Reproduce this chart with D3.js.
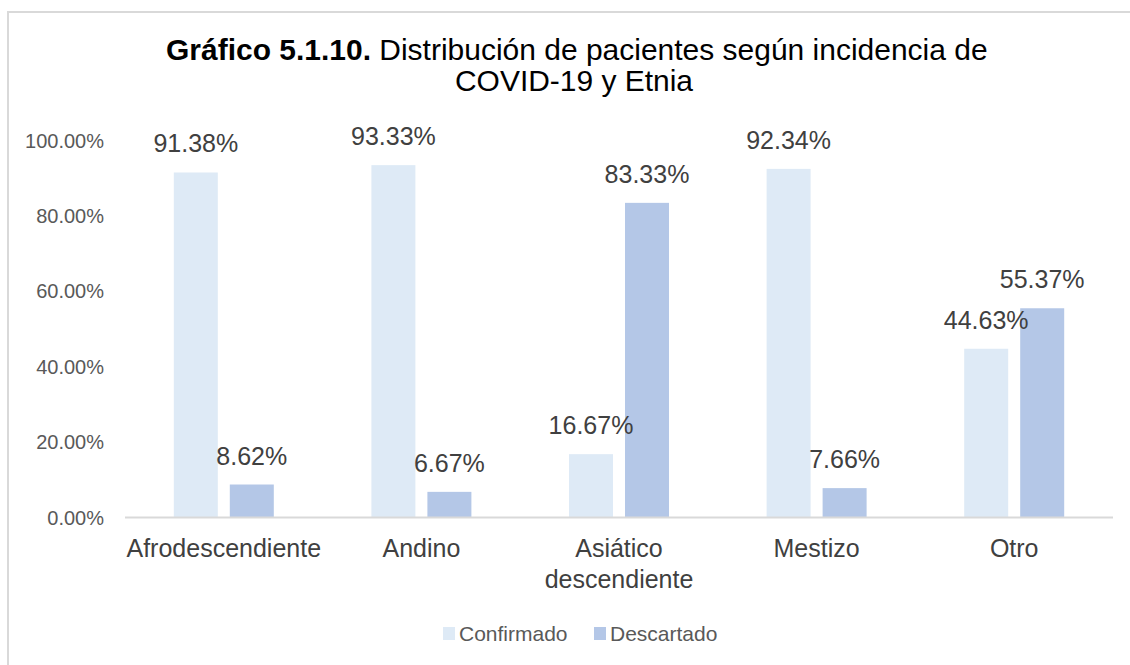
<!DOCTYPE html>
<html><head><meta charset="utf-8">
<script src="https://cdn.jsdelivr.net/npm/d3@7"></script>
<style>html,body{margin:0;padding:0;background:#fff;}svg{display:block;}</style>
</head><body>
<svg id="chart" width="1130" height="665"></svg>
<script>
const categories = ["Afrodescendiente", "Andino", "Asiático\ndescendiente", "Mestizo", "Otro"];
const seriesNames = ["Confirmado", "Descartado"];
const confirmado = [91.38, 93.33, 16.67, 92.34, 44.63];
const descartado = [8.62, 6.67, 83.33, 7.66, 55.37];
const yTicks = [0, 20, 40, 60, 80, 100];
const colors = ["#DEEAF6", "#B4C7E7"];

const svg = d3.select("#chart");
const font = "'Liberation Sans', Arial, sans-serif";

// frame
svg.append("rect").attr("x", 8).attr("y", 12).attr("width", 1200).attr("height", 700)
  .attr("fill", "#fff").attr("stroke", "#d9d9d9").attr("stroke-width", 2);

// title
const t1 = svg.append("text").attr("y", 60).attr("font-family", font).attr("font-size", 29.5).attr("fill", "#000");
t1.append("tspan").attr("font-weight", "bold").text("Gráfico 5.1.10.");
t1.append("tspan").text(" Distribución de pacientes según incidencia de");
const t2 = svg.append("text").attr("y", 91).attr("font-family", font).attr("font-size", 29.5).attr("fill", "#000")
  .text("COVID-19 y Etnia");
function fitText(sel, targetW, cx) {
  const w = sel.node().getComputedTextLength();
  const s = targetW / w;
  sel.attr("x", 0).attr("transform", `translate(${cx - targetW / 2},0) scale(${s},1)`);
}
fitText(t1, 822, 577);
fitText(t2, 238, 574);

const x0 = d3.scaleBand().domain(categories).range([125, 1113]).padding(0);
const x1 = d3.scaleBand().domain(seriesNames).range([0, 100]).paddingInner(0.2143).paddingOuter(0);
const y = d3.scaleLinear().domain([0, 100]).range([517, 140]);

// y axis labels
const yAxis = d3.axisLeft(y).tickValues(yTicks).tickSize(0).tickPadding(0)
  .tickFormat(d => d3.format(".2f")(d) + "%");
const ya = svg.append("g").attr("transform", "translate(104,0)").call(yAxis);
ya.select(".domain").remove();
ya.selectAll("text").attr("font-family", font).attr("font-size", 20).attr("fill", "#595959").attr("dy", "0.35em");

// bars
const data = categories.map((c, i) => ({cat: c, vals: [confirmado[i], descartado[i]]}));
const groups = svg.append("g").selectAll("g").data(data).join("g")
  .attr("transform", d => `translate(${x0(d.cat) + x0.bandwidth() / 2 - 50},0)`);
groups.selectAll("rect").data(d => d.vals.map((v, j) => ({s: seriesNames[j], v, j}))).join("rect")
  .attr("x", d => x1(d.s)).attr("width", x1.bandwidth())
  .attr("y", d => y(d.v)).attr("height", d => y(0) - y(d.v))
  .attr("fill", d => colors[d.j]);
groups.selectAll("text").data(d => d.vals.map((v, j) => ({s: seriesNames[j], v, j}))).join("text")
  .attr("x", d => x1(d.s) + x1.bandwidth() / 2).attr("y", d => y(d.v) - 20)
  .attr("text-anchor", "middle").attr("font-family", font).attr("font-size", 25).attr("fill", "#404040")
  .text(d => d3.format(".2f")(d.v) + "%");

// x axis line
svg.append("line").attr("x1", 125).attr("x2", 1113).attr("y1", 517.5).attr("y2", 517.5)
  .attr("stroke", "#d9d9d9").attr("stroke-width", 2);

// category labels
const xa = svg.append("g").selectAll("text").data(categories).join("text")
  .attr("x", d => x0(d) + x0.bandwidth() / 2).attr("y", 557)
  .attr("text-anchor", "middle").attr("font-family", font).attr("font-size", 25).attr("fill", "#404040");
xa.each(function(d) {
  const lines = d.split("\n");
  const el = d3.select(this);
  lines.forEach((l, i) => el.append("tspan").attr("x", x0(d) + x0.bandwidth() / 2).attr("dy", i === 0 ? 0 : 31).text(l));
});

// legend
const legX = [443, 594];
const leg = svg.append("g").selectAll("g").data(seriesNames).join("g")
  .attr("transform", (d, i) => `translate(${legX[i]},0)`);
leg.append("rect").attr("x", 0).attr("y", 627).attr("width", 12).attr("height", 13).attr("fill", (d, i) => colors[i]);
leg.append("text").attr("x", 16).attr("y", 641).attr("font-family", font).attr("font-size", 21).attr("fill", "#595959")
  .text(d => d);
</script>
</body></html>
